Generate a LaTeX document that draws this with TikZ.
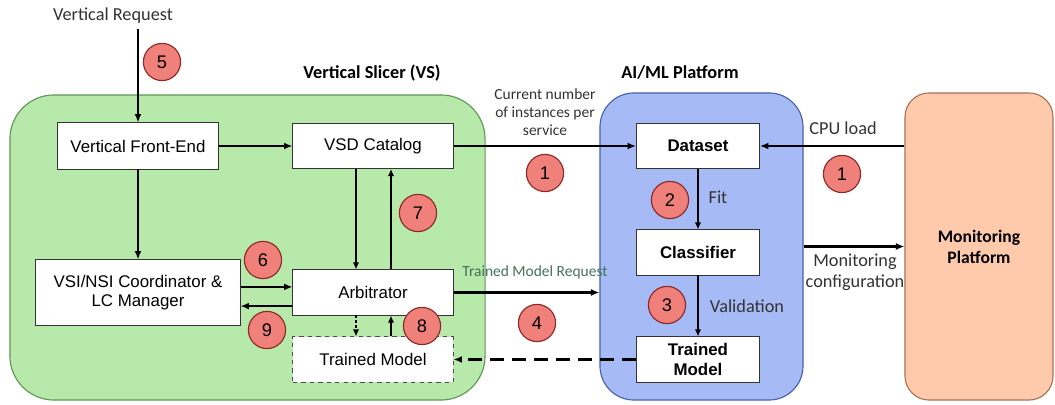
\documentclass[tikz,border=0pt]{standalone}
\usepackage{fontspec}
\setmainfont{Liberation Sans}
\newfontfamily\lblfont{Carlito}
\usetikzlibrary{arrows.meta}

\definecolor{vsgreen}{RGB}{183,233,170}
\definecolor{vsedge}{RGB}{95,150,85}
\definecolor{aiblue}{RGB}{166,186,245}
\definecolor{aiedge}{RGB}{75,95,170}
\definecolor{monpeach}{RGB}{255,201,172}
\definecolor{monedge}{RGB}{165,115,85}
\definecolor{stepred}{RGB}{240,128,122}
\definecolor{stepedge}{RGB}{140,40,40}
\definecolor{lblgray}{RGB}{50,50,50}
\definecolor{reqgreen}{RGB}{65,115,90}

\tikzset{
  box/.style={draw=black!80, line width=0.7pt, fill=white, inner sep=0pt,
    minimum width=4cm, minimum height=1.125cm, align=center,
    font=\fontsize{12}{14}\selectfont},
  aibox/.style={box, minimum width=3.075cm, font=\fontsize{12}{14}\selectfont\bfseries},
  stepno/.style={circle, draw=stepedge, line width=0.8pt, fill=stepred,
    minimum size=0.93cm, inner sep=0pt, font=\fontsize{13}{14}\selectfont},
  lbl/.style={text=lblgray, align=center, font=\lblfont\fontsize{13}{15}\selectfont},
  smalllbl/.style={lbl, font=\lblfont\fontsize{11}{13}\selectfont},
  ttl/.style={font=\lblfont\fontsize{13}{15}\selectfont\bfseries},
  flow/.style={-{Latex[length=6pt,width=5pt]}, line width=1.5pt},
  thinflow/.style={-{Latex[length=5pt,width=4.5pt]}, line width=1pt},
}

\begin{document}
\begin{tikzpicture}[x=0.025cm, y=-0.025cm]
\useasboundingbox (0,0) rectangle (1055,405);

% ===== Khối lớn =====
\node[draw=vsedge, line width=0.8pt, fill=vsgreen, rounded corners=1.1cm,
  minimum width=11.875cm, minimum height=7.625cm] (vs) at (247.5,247.5) {};
\node[draw=aiedge, line width=0.8pt, fill=aiblue, rounded corners=0.85cm,
  minimum width=5.075cm, minimum height=7.675cm] (aiml) at (701.5,246.5) {};
\node[draw=monedge, line width=0.8pt, fill=monpeach, rounded corners=0.6cm,
  minimum width=3.7cm, minimum height=7.675cm, align=center,
  font=\lblfont\fontsize{12.5}{15}\selectfont\bfseries] (mon) at (979,246.5)
  {Monitoring\\Platform};

\node[ttl] (vstitle) at (372,73) {Vertical Slicer (VS)};
\node[ttl] (aititle) at (680,73) {AI/ML Platform};

% ===== Vertical Slicer =====
\node[lbl] (req) at (113,16) {Vertical Request};
\node[box, minimum height=1.15cm] (vfe) at (138,146) {Vertical Front-End};
\node[box] (vsd) at (373,146) {VSD Catalog};
\node[box, minimum width=5.1cm, minimum height=1.625cm] (coord) at (138,292.5)
  {VSI/NSI Coordinator \&\\LC Manager};
\node[box] (arb) at (373,292.5) {Arbitrator};
\node[box, dashed, draw=black!70] (tmvs) at (373,359.5) {Trained Model};

% ===== AI/ML Platform =====
\node[aibox] (dataset) at (698,146) {Dataset};
\node[aibox] (clf) at (698,252.5) {Classifier};
\node[aibox] (tmai) at (698,359.5) {Trained\\Model};

% ===== Mũi tên =====
\draw[flow] (vfe.north |- req.south) -- (vfe.north);
\draw[flow] (vfe.east) -- (vsd.west);
\draw[flow] (vfe.south) -- (coord.north);
\draw[flow] ([yshift=0.14cm]coord.east) -- ([yshift=0.14cm]arb.west);
\draw[flow] ([yshift=-0.34cm]arb.west) -- ([yshift=-0.34cm]coord.east);
\draw[thinflow] ([xshift=-0.425cm]vsd.south) -- ([xshift=-0.425cm]arb.north);
\draw[thinflow] ([xshift=0.45cm]arb.north) -- ([xshift=0.45cm]vsd.south);
\draw[thinflow, dash pattern=on 2pt off 1.5pt] ([xshift=-0.425cm]arb.south) -- ([xshift=-0.425cm]tmvs.north);
\draw[thinflow] ([xshift=0.45cm]tmvs.north) -- ([xshift=0.45cm]arb.south);

\draw[flow] (vsd.east) -- (dataset.west);
\draw[flow] (arb.east) -- (aiml.west |- arb.east);
\draw[flow, dash pattern=on 0.35cm off 0.2cm] (tmai.west) -- (tmvs.east);
\draw[thinflow] (dataset.south) -- (clf.north);
\draw[thinflow] (clf.south) -- (tmai.north);
\draw[flow] (mon.west |- dataset.east) -- (dataset.east);
\draw[flow] (aiml.east) -- (mon.west);

% ===== Nhãn =====
\node[smalllbl] (curnum) at (545,112) {Current number\\of instances per\\service};
\node[smalllbl, text=reqgreen] (tmreq) at (535,272) {Trained Model Request};
\node[lbl] (cpu) at (843,128) {CPU load};
\node[lbl] (moncfg) at (855,272) {Monitoring\\configuration};
\node[lbl] (fit) at (718,197) {Fit};
\node[lbl] (valid) at (747,306) {Validation};

% ===== Số bước =====
\node[stepno] (s5) at (162,62) {5};
\node[stepno] (s1a) at (545,173) {1};
\node[stepno] (s1b) at (842,174) {1};
\node[stepno] (s2) at (670,200) {2};
\node[stepno] (s3) at (667,305) {3};
\node[stepno] (s4) at (537,323) {4};
\node[stepno] (s6) at (263,260) {6};
\node[stepno] (s7) at (418,213) {7};
\node[stepno] (s8) at (422,326) {8};
\node[stepno] (s9) at (267,330) {9};

\end{tikzpicture}
\end{document}
